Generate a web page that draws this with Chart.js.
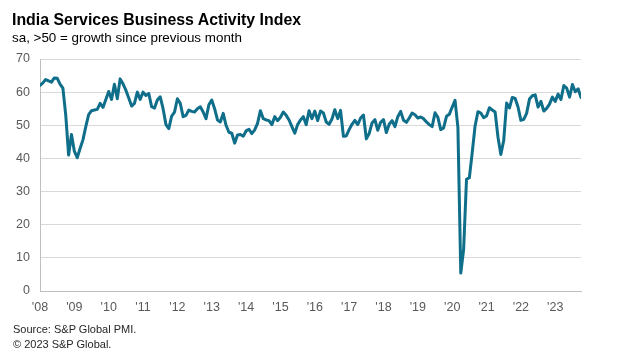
<!DOCTYPE html>
<html>
<head>
<meta charset="utf-8">
<title>India Services Business Activity Index</title>
<script src="https://cdn.jsdelivr.net/npm/chart.js@4.4.1/dist/chart.umd.min.js"></script>
<style>
  html, body { margin: 0; padding: 0; background: #fff; }
  .wrap { position: relative; width: 626px; height: 363px; overflow: hidden; font-family: "Liberation Sans", Arial, sans-serif; }
  .wrap canvas { position: absolute; left: 0; top: 0; }
  .txt { position: absolute; left: 12px; line-height: 1; white-space: nowrap; }
  .title { top: 11.7px; font-size: 15.9px; font-weight: bold; color: #000; }
  .subtitle { top: 30.5px; font-size: 13.4px; color: #000; }
  .source { top: 323.5px; left: 13px; font-size: 11px; color: #262626; }
  .copy { top: 338.5px; left: 13px; font-size: 11px; color: #262626; }
</style>
</head>
<body>
<div class="wrap">
  <canvas id="chart" width="626" height="363"></canvas>
  <div class="txt title">India Services Business Activity Index</div>
  <div class="txt subtitle">sa, &gt;50 = growth since previous month</div>
  <div class="txt source">Source: S&amp;P Global PMI.</div>
  <div class="txt copy">© 2023 S&amp;P Global.</div>
</div>
<script>
// monthly index, Jan 2008 .. Oct 2023
var y2008 = [62.0, 62.8, 63.8, 63.4, 63.0, 64.3, 64.2, 62.4, 61.2, 53.0, 41.0, 47.2];
var y2009 = [42.2, 40.2, 43.0, 45.6, 49.6, 53.2, 54.4, 54.6, 54.8, 56.6, 55.4, 57.8];
var y2010 = [60.2, 57.8, 62.4, 58.0, 64.0, 62.5, 60.6, 58.2, 55.8, 56.6, 60.0, 57.8];
var y2011 = [60.0, 59.0, 59.6, 55.6, 55.2, 57.6, 58.6, 55.0, 50.2, 49.0, 52.8, 54.0];
var y2012 = [58.0, 56.6, 52.6, 53.0, 54.6, 54.2, 54.0, 55.0, 55.6, 54.0, 52.0, 56.2];
var y2013 = [57.6, 55.0, 51.6, 51.0, 53.6, 50.0, 47.9, 47.6, 44.6, 47.1, 47.2, 46.7];
var y2014 = [48.3, 48.8, 47.5, 48.6, 50.6, 54.4, 52.0, 51.6, 51.4, 50.2, 52.6, 51.4];
var y2015 = [52.4, 54.0, 53.0, 51.6, 49.6, 47.6, 50.2, 51.6, 52.6, 50.2, 54.4, 52.0];
var y2016 = [54.3, 51.4, 54.3, 53.7, 51.0, 50.3, 51.9, 54.7, 52.0, 54.5, 46.7, 46.8];
var y2017 = [48.7, 50.3, 51.5, 50.2, 52.2, 53.1, 45.9, 47.5, 50.7, 51.7, 48.5, 50.9];
var y2018 = [51.7, 47.8, 50.3, 51.4, 49.6, 52.6, 54.2, 51.5, 50.9, 52.2, 53.7, 53.2];
var y2019 = [52.2, 52.5, 52.0, 51.0, 50.2, 49.6, 53.8, 52.4, 48.7, 49.2, 52.7, 53.3];
var y2020 = [55.5, 57.5, 49.3, 5.4, 12.6, 33.7, 34.2, 41.8, 49.8, 54.1, 53.7, 52.3];
var y2021 = [52.8, 55.3, 54.6, 54.0, 46.4, 41.2, 45.4, 56.7, 55.2, 58.4, 58.1, 55.5];
var y2022 = [51.5, 51.8, 53.6, 57.9, 58.9, 59.2, 55.5, 57.2, 54.3, 55.1, 56.4, 58.5];
var y2023 = [57.2, 59.4, 57.8, 62.0, 61.2, 58.5, 62.3, 60.1, 61.0, 58.4];

var yearLabels = ["'08", "'09", "'10", "'11", "'12", "'13", "'14", "'15",
                  "'16", "'17", "'18", "'19", "'20", "'21", "'22", "'23"];
var yTicks = [0, 10, 20, 30, 40, 50, 60, 70];

(function () {
  var years = [y2008, y2009, y2010, y2011, y2012, y2013, y2014, y2015,
               y2016, y2017, y2018, y2019, y2020, y2021, y2022, y2023];

  // flatten to {x: month index, y: value}
  var points = [];
  for (var i = 0; i < years.length; i++) {
    for (var j = 0; j < years[i].length; j++) {
      points.push({ x: i * 12 + j, y: years[i][j] });
    }
  }

  var tickFont = { family: "'Liberation Sans', Arial, sans-serif", size: 12.5 };
  var tickColor = "#595959";

  new Chart(document.getElementById("chart").getContext("2d"), {
    type: "line",
    data: {
      datasets: [{
        data: points,
        borderColor: "#0f6e8a",
        borderWidth: 3,
        pointRadius: 0,
        tension: 0,
        fill: false,
        borderJoinStyle: "round",
        borderCapStyle: "round"
      }]
    },
    options: {
      responsive: false,
      devicePixelRatio: 1,
      animation: false,
      layout: { padding: { top: 59, right: 45, bottom: 0, left: 0 } },
      plugins: { legend: { display: false }, tooltip: { enabled: false } },
      scales: {
        x: {
          type: "linear",
          min: 0,
          max: points.length - 1,
          grid: { display: false, drawTicks: false },
          border: { display: true, color: "#bfbfbf", width: 1 },
          afterFit: function (s) { s.height = 72; },
          afterBuildTicks: function (s) {
            var t = [];
            for (var k = 0; k < yearLabels.length; k++) t.push({ value: k * 12 });
            s.ticks = t;
          },
          ticks: {
            autoSkip: false,
            maxRotation: 0,
            padding: 9,
            color: tickColor,
            font: tickFont,
            callback: function (v) { return yearLabels[v / 12]; }
          }
        },
        y: {
          min: yTicks[0],
          max: yTicks[yTicks.length - 1],
          grid: { color: "#d9d9d9", lineWidth: 1, drawTicks: false },
          border: { display: true, color: "#bfbfbf", width: 1 },
          afterFit: function (s) { s.width = 40; },
          afterBuildTicks: function (s) {
            s.ticks = yTicks.map(function (v) { return { value: v }; });
          },
          ticks: {
            padding: 10,
            color: tickColor,
            font: tickFont
          }
        }
      }
    }
  });
})();
</script>
</body>
</html>
